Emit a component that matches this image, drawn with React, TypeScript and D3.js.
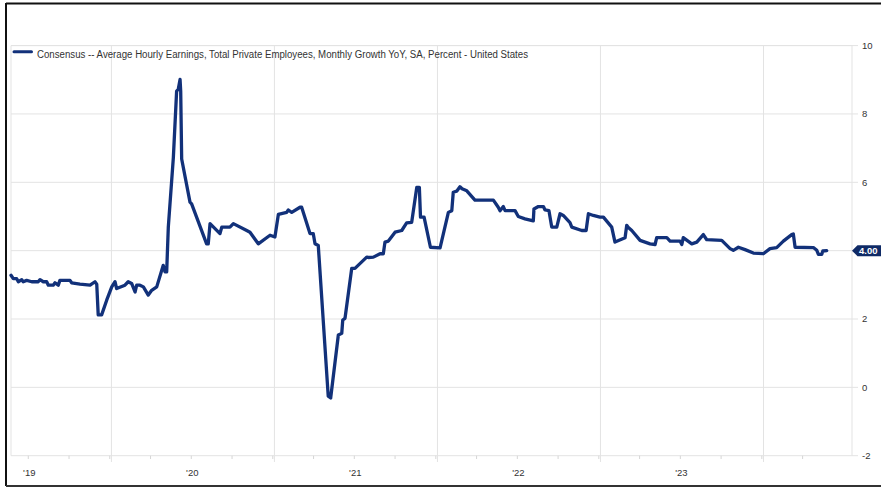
import React from "react";
import * as d3 from "d3";

// Consensus estimate for average hourly earnings growth, year-over-year (%)
// Time stored as decimal years.
const dates: number[] = [
  2018.894, 2018.908, 2018.929, 2018.939, 2018.96, 2018.969, 2018.99, 2019.021, 2019.061, 2019.072,
  2019.092, 2019.113, 2019.123, 2019.153, 2019.164, 2019.184, 2019.194, 2019.256, 2019.266, 2019.317,
  2019.379, 2019.409, 2019.42, 2019.429, 2019.45, 2019.481, 2019.512, 2019.532, 2019.542, 2019.593,
  2019.613, 2019.634, 2019.655, 2019.665, 2019.685, 2019.706, 2019.736, 2019.757, 2019.788, 2019.828,
  2019.839, 2019.849, 2019.859, 2019.89, 2019.91, 2019.92, 2019.931, 2019.935, 2019.941, 2019.992,
  2020.002, 2020.094, 2020.104, 2020.115, 2020.176, 2020.187, 2020.237, 2020.258, 2020.34, 2020.36,
  2020.411, 2020.483, 2020.513, 2020.534, 2020.585, 2020.595, 2020.616, 2020.667, 2020.677, 2020.728,
  2020.748, 2020.759, 2020.779, 2020.84, 2020.855, 2020.902, 2020.923, 2020.929, 2020.943, 2020.984,
  2021.004, 2021.076, 2021.086, 2021.117, 2021.158, 2021.178, 2021.188, 2021.209, 2021.25, 2021.291,
  2021.321, 2021.352, 2021.383, 2021.399, 2021.406, 2021.428, 2021.467, 2021.526, 2021.577, 2021.598,
  2021.607, 2021.628, 2021.648, 2021.661, 2021.69, 2021.74, 2021.853, 2021.883, 2021.894, 2021.914,
  2021.925, 2021.986, 2022.006, 2022.047, 2022.098, 2022.102, 2022.129, 2022.16, 2022.17, 2022.194,
  2022.211, 2022.242, 2022.262, 2022.282, 2022.323, 2022.334, 2022.395, 2022.422, 2022.436, 2022.466,
  2022.507, 2022.528, 2022.579, 2022.599, 2022.661, 2022.671, 2022.681, 2022.702, 2022.753, 2022.814,
  2022.845, 2022.855, 2022.917, 2022.937, 2022.998, 2023.009, 2023.018, 2023.07, 2023.101, 2023.141,
  2023.162, 2023.254, 2023.305, 2023.325, 2023.356, 2023.397, 2023.448, 2023.509, 2023.55, 2023.591,
  2023.632, 2023.683, 2023.693, 2023.704, 2023.816, 2023.837, 2023.847, 2023.867, 2023.874, 2023.898,
];

const values: number[] = [
  3.28, 3.18, 3.18, 3.09, 3.15, 3.09, 3.13, 3.09, 3.09, 3.15,
  3.09, 3.09, 2.99, 2.99, 3.06, 2.99, 3.13, 3.13, 3.06, 3.02,
  2.99, 3.09, 3.02, 2.12, 2.12, 2.55, 2.94, 3.09, 2.89, 2.99,
  3.09, 3.04, 2.79, 2.99, 2.99, 2.94, 2.7, 2.84, 2.94, 3.57,
  3.38, 3.38, 4.69, 6.73, 8.67, 8.72, 9.01, 8.67, 6.68, 5.42,
  5.37, 4.2, 4.2, 4.79, 4.5, 4.69, 4.69, 4.79, 4.59, 4.54,
  4.2, 4.45, 4.4, 5.06, 5.12, 5.19, 5.12, 5.27, 5.27, 4.5,
  4.5, 4.2, 4.15, -0.26, -0.31, 1.53, 1.58, 1.97, 2.02, 3.48,
  3.48, 3.81, 3.8, 3.81, 3.91, 3.91, 4.25, 4.28, 4.54, 4.59,
  4.81, 4.83, 5.85, 5.85, 4.98, 4.98, 4.1, 4.08, 5.12, 5.17,
  5.71, 5.74, 5.87, 5.81, 5.75, 5.48, 5.48, 5.27, 5.17, 5.29,
  5.17, 5.17, 5.0, 4.93, 4.87, 5.22, 5.29, 5.29, 5.19, 5.17,
  4.69, 4.69, 5.08, 5.03, 4.82, 4.69, 4.59, 4.59, 5.08, 5.03,
  4.98, 4.98, 4.69, 4.25, 4.38, 4.74, 4.68, 4.59, 4.3, 4.2,
  4.18, 4.38, 4.38, 4.28, 4.28, 4.18, 4.38, 4.2, 4.25, 4.47,
  4.32, 4.3, 4.06, 4.01, 4.1, 4.03, 3.93, 3.91, 4.06, 4.09,
  4.28, 4.47, 4.49, 4.1, 4.09, 4.01, 3.89, 3.89, 3.99, 4.0,
];

const yTicks: number[] = [-2, 0, 2, 4, 6, 8, 10];
const yearLabels: number[] = [2019, 2020, 2021, 2022, 2023];
const legendText =
  "Consensus -- Average Hourly Earnings, Total Private Employees, Monthly Growth YoY, SA, Percent - United States";
const lastValue = 4.0;

const W = 881;
const H = 487;
const left = 11;
const right = 852;
const top = 45.6;
const bottom = 455.7;
const navy = "#12317a";
const tagFill = "#0f2a66";
const grid = "#e3e3e3";
const font = "'Liberation Sans', Arial, sans-serif";

export default function App() {
  const x = d3.scaleLinear().domain([2018.894, 2024.053]).range([left, right]);
  const y = d3.scaleLinear().domain([-2, 10]).range([bottom, top]);

  const points = dates.map((d, i) => [d, values[i]] as [number, number]);
  const line = d3
    .line<[number, number]>()
    .x((p) => x(p[0]))
    .y((p) => y(p[1]));

  const quarterTicks = d3.range(2019, 2024, 0.25);
  const midYears = yearLabels.map((yr) => yr + 0.51);
  const lastY = y(lastValue);

  return (
    <div style={{ position: "fixed", left: 0, top: 0 }}>
      <svg width={W} height={H} style={{ display: "block", background: "#fff" }}>
        {/* outer frame */}
        <line x1={6} x2={W} y1={3.5} y2={3.5} stroke="#111" strokeWidth={2} />
        <line x1={6} x2={6} y1={3} y2={486} stroke="#111" strokeWidth={2} />
        <line x1={6} x2={W} y1={486} y2={486} stroke="#333" strokeWidth={2} />

        {/* horizontal grid */}
        {yTicks.map((t) => (
          <line key={"h" + t} x1={left} x2={858} y1={y(t)} y2={y(t)} stroke={grid} strokeWidth={1} />
        ))}
        {/* vertical grid at mid-year */}
        {midYears.map((m) => (
          <line key={"v" + m} x1={x(m)} x2={x(m)} y1={top} y2={462} stroke={grid} strokeWidth={1} />
        ))}
        {/* plot border */}
        <line x1={left} x2={left} y1={top} y2={bottom} stroke={grid} />
        <line x1={right} x2={right} y1={top} y2={bottom} stroke={grid} />
        <line x1={left} x2={right} y1={top} y2={top} stroke={grid} />

        {/* quarterly ticks */}
        {quarterTicks.map((q) => (
          <line key={"q" + q} x1={x(q)} x2={x(q)} y1={bottom} y2={459} stroke="#d6d6d6" />
        ))}

        {/* x labels */}
        {yearLabels.map((yr) => (
          <text
            key={"yl" + yr}
            x={x(yr) + 1}
            y={475.5}
            textAnchor="middle"
            fontFamily={font}
            fontSize={9.5}
            fill="#333"
          >
            {"'" + String(yr).slice(2)}
          </text>
        ))}

        {/* y labels (the one under the value tag is covered) */}
        {yTicks
          .filter((t) => t !== lastValue)
          .map((t) => (
            <text
              key={"yt" + t}
              x={862}
              y={y(t) + 3.3}
              fontFamily={font}
              fontSize={9.5}
              fill="#333"
            >
              {t}
            </text>
          ))}

        {/* series */}
        <path
          d={line(points) || ""}
          fill="none"
          stroke={navy}
          strokeWidth={3.3}
          strokeLinejoin="round"
          strokeLinecap="round"
        />

        {/* last value tag */}
        <path
          d={`M${right},${lastY} L${right + 5.5},${lastY - 5.5} L${W},${lastY - 5.5} L${W},${lastY + 5.5} L${right + 5.5},${lastY + 5.5} Z`}
          fill={tagFill}
        />
        <text
          x={859}
          y={lastY + 3.5}
          fontFamily={font}
          fontSize={9.5}
          fontWeight="bold"
          fill="#fff"
        >
          {lastValue.toFixed(2)}
        </text>

        {/* legend */}
        <line x1={14} x2={31.5} y1={51.7} y2={51.7} stroke={navy} strokeWidth={3} strokeLinecap="round" />
        <text
          x={37}
          y={58}
          fontFamily={font}
          fontSize={10}
          fill="#333"
          textLength={491}
          lengthAdjust="spacingAndGlyphs"
        >
          {legendText}
        </text>
      </svg>
    </div>
  );
}
